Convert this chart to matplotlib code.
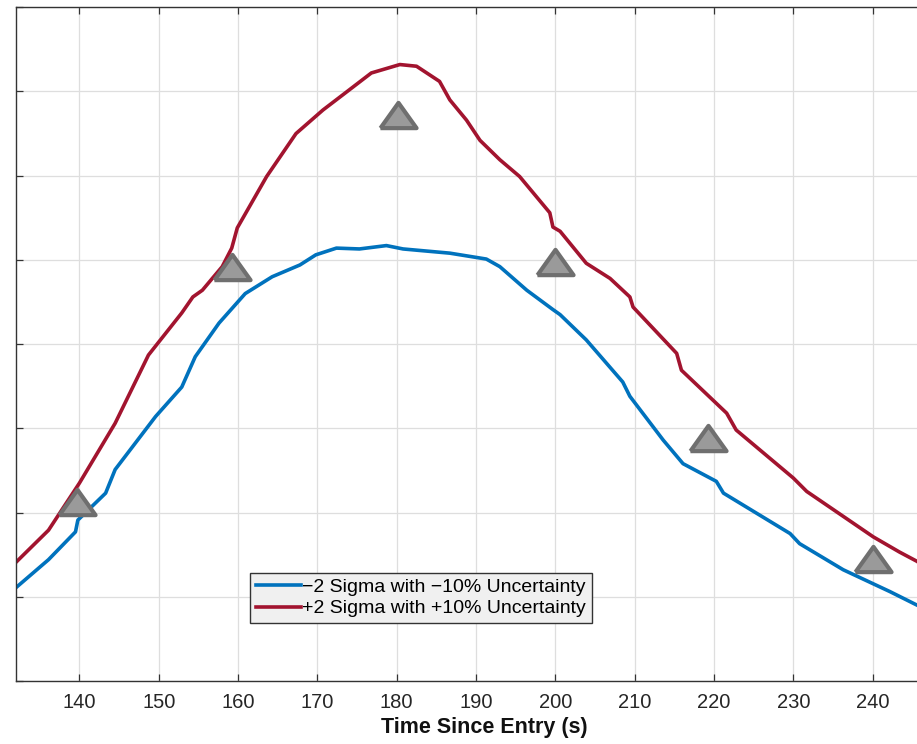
import matplotlib
matplotlib.use("Agg")
import matplotlib.pyplot as plt

# values (y axis labels are cropped, so y is in grid units)
red_t = [131.9, 136.1, 140.0, 144.5, 148.7, 152.9, 154.3, 155.5, 158.0, 159.2,
         159.9, 163.6, 167.3, 170.7, 173.2, 176.8, 180.4, 182.5, 185.4, 186.7,
         188.8, 190.5, 193.0, 195.5, 199.3, 199.7, 200.6, 203.9, 206.9, 209.4,
         209.8, 215.3, 215.9, 221.6, 222.8, 230.0, 231.7, 240.1, 243.4, 245.6, 247.0]
red_q = [1.40, 1.79, 2.35, 3.06, 3.87, 4.37, 4.56, 4.64, 4.92, 5.14,
         5.38, 5.99, 6.50, 6.78, 6.96, 7.22, 7.32, 7.30, 7.12, 6.90,
         6.66, 6.42, 6.19, 5.99, 5.56, 5.39, 5.34, 4.96, 4.78, 4.56,
         4.44, 3.89, 3.69, 3.18, 2.98, 2.41, 2.25, 1.71, 1.53, 1.42, 1.33]

blue_t = [131.9, 136.1, 139.5, 139.8, 143.3, 144.5, 149.6, 152.9, 154.6, 157.6,
          160.9, 164.3, 167.8, 169.8, 172.4, 175.3, 178.7, 180.8, 186.7, 191.3,
          193.0, 196.4, 199.7, 200.6, 203.9, 208.5, 209.4, 213.6, 216.1, 220.3,
          221.2, 229.6, 230.8, 236.3, 242.2, 245.6, 247.0]
blue_q = [1.10, 1.44, 1.77, 1.91, 2.23, 2.51, 3.14, 3.49, 3.85, 4.25,
          4.60, 4.80, 4.94, 5.06, 5.14, 5.13, 5.17, 5.13, 5.08, 5.01,
          4.92, 4.64, 4.41, 4.35, 4.05, 3.55, 3.38, 2.86, 2.58, 2.37,
          2.23, 1.75, 1.63, 1.32, 1.06, 0.90, 0.84]

flight_t = [139.7, 159.25, 180.2, 200.0, 219.3, 240.0]
flight_q = [2.12, 4.91, 6.72, 4.97, 2.89, 1.45]

x_ticks = list(range(140, 250, 10))
y_ticks = list(range(0, 9))

plt.rcParams["font.family"] = ["Liberation Sans", "DejaVu Sans"]

fig = plt.figure(figsize=(9.17, 7.44), dpi=100)
# axes run off the right edge of the figure, as in the cropped reference
ax = fig.add_axes([0.01745, 0.0848, 1.0206, 0.9054])

ax.plot(blue_t, blue_q, color="#0072BD", linewidth=2.6,
        label="\u22122 Sigma with \u221210% Uncertainty")
ax.plot(red_t, red_q, color="#A2142F", linewidth=2.6,
        label="+2 Sigma with +10% Uncertainty")

tri = [(-1, -0.7), (1, -0.7), (0, 0.7), (-1, -0.7)]
ax.plot(flight_t, flight_q, linestyle="none", marker=tri, markersize=26,
        markerfacecolor="#9a9a9a", markeredgecolor="#6f6f6f",
        markeredgewidth=3.0, zorder=5)

ax.set_xlim(132, 250)
ax.set_ylim(0, 8)
ax.set_xticks(x_ticks)
ax.set_yticks(y_ticks)
ax.set_yticklabels([])
ax.grid(True, color="#dedede", linewidth=0.9)
ax.set_axisbelow(True)
ax.tick_params(direction="in", length=5, width=0.9, color="#333333",
               top=True, right=True, labelsize=14.5, pad=9,
               labelcolor="#262626")
for sp in ax.spines.values():
    sp.set_color("#333333")
    sp.set_linewidth(1.0)

ax.set_xlabel("Time Since Entry (s)", fontsize=15.5, fontweight="bold",
              labelpad=3, color="#111111")

leg = ax.legend(loc="lower left", bbox_to_anchor=(0.250, 0.0855),
                borderaxespad=0, fontsize=14, handlelength=2.3,
                handletextpad=0.1, borderpad=0.3, labelspacing=0.2,
                fancybox=False, framealpha=1)
leg.get_frame().set_facecolor("#f0f0f0")
leg.get_frame().set_edgecolor("#333333")
leg.get_frame().set_linewidth(1.0)

fig.savefig("out.png", dpi=100)
